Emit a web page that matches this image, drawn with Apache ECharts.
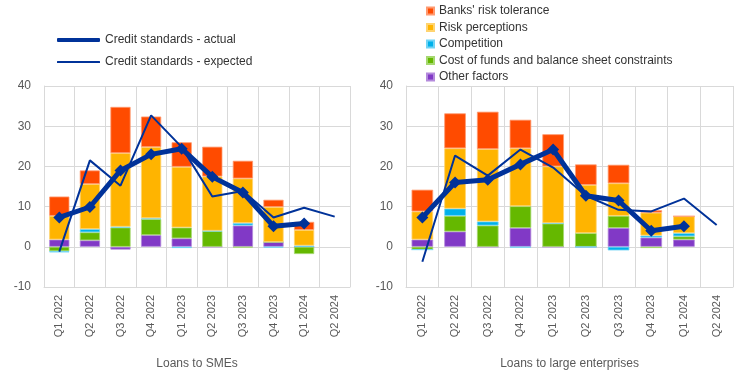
<!DOCTYPE html>
<html><head><meta charset="utf-8">
<script src="https://cdn.jsdelivr.net/npm/echarts@6/dist/echarts.min.js"></script>
<style>html,body{margin:0;padding:0;background:#fff}#c{width:744px;height:381px}</style>
</head><body><div id="c"></div>
<script>
var categories = ['Q1 2022','Q2 2022','Q3 2022','Q4 2022','Q1 2023','Q2 2023','Q3 2023','Q4 2023','Q1 2024','Q2 2024'];
var yTicks = [-10, 0, 10, 20, 30, 40];
var titles = ['Loans to SMEs', 'Loans to large enterprises'];

// Loans to SMEs
var smeOther    = [1.8, 1.6, -0.7, 2.9, 2.1, 0, 5.3, 1.2, 0, null];
var smeCost     = [-1.1, 2.0, 4.8, 4.0, 2.7, 3.9, -0.2, 0, -1.8, null];
var smeComp     = [-0.3, 0.8, 0.2, 0.2, -0.3, 0.1, 0.6, -0.2, 0.3, null];
var smeRiskP    = [5.9, 11.2, 18.3, 17.7, 15.1, 13.5, 11.1, 8.7, 3.9, null];
var smeTol      = [4.8, 3.4, 11.5, 7.6, 6.1, 7.4, 4.4, 1.8, 2.0, null];
var smeActual   = [7.3, 9.9, 19.0, 23.0, 24.4, 17.4, 13.5, 5.1, 5.8, null];
var smeExpected = [-1.2, 21.5, 15.2, 32.7, 24.8, 12.5, 13.9, 7.3, 9.7, 7.5];

// Loans to large enterprises
var lgOther    = [1.8, 3.8, 0, 4.7, 0, 0, 4.7, 2.3, 1.8, null];
var lgCost     = [-0.7, 3.9, 5.3, 5.4, 5.8, 3.4, 3.0, -0.3, 0.8, null];
var lgComp     = [0, 1.8, 1.0, -0.2, 0.1, -0.1, -0.9, 0.5, 0.8, null];
var lgRiskP    = [7.0, 15.0, 18.0, 14.4, 14.1, 12.0, 8.1, 5.7, 4.2, null];
var lgTol      = [5.4, 8.7, 9.3, 7.1, 8.0, 5.1, 4.6, 0.6, 0, null];
var lgActual   = [7.3, 16.0, 16.7, 20.5, 24.2, 12.7, 11.5, 4.0, 5.1, null];
var lgExpected = [-3.7, 22.7, 17.7, 24.2, 19.7, 12.7, 9.2, 8.8, 12.0, 5.4];

var barNames = ["Banks' risk tolerance", 'Risk perceptions', 'Competition', 'Cost of funds and balance sheet constraints', 'Other factors'];
var barColors = {"Banks' risk tolerance":'#FF4B00','Risk perceptions':'#FFB400','Competition':'#00B1EA','Cost of funds and balance sheet constraints':'#65B800','Other factors':'#8139C6'};
var barBorders = {"Banks' risk tolerance":'#FF9A70','Risk perceptions':'#FFD470','Competition':'#70D4F5','Cost of funds and balance sheet constraints':'#A6D870','Other factors':'#B48ADC'};
var lineColor = '#003299';
var FONT = 'Liberation Sans, Arial, sans-serif';
var txt = '#595959';

function bars(idx, stack, d) {
  var order = ['Other factors','Cost of funds and balance sheet constraints','Competition','Risk perceptions',"Banks' risk tolerance"];
  return order.map(function(n, i){
    return {name:n, type:'bar', stack:stack, xAxisIndex:idx, yAxisIndex:idx, data:d[i],
      barWidth:'66%', itemStyle:{color:barColors[n], borderColor:barBorders[n], borderWidth:0.8}};
  });
}
function lines(idx, act, exp) {
  return [
    {name:'Credit standards - expected', type:'line', xAxisIndex:idx, yAxisIndex:idx, data:exp, symbol:'none',
      lineStyle:{color:lineColor, width:2}, itemStyle:{color:lineColor}, z:5},
    {name:'Credit standards - actual', type:'line', xAxisIndex:idx, yAxisIndex:idx, data:act, symbol:'diamond', symbolSize:12,
      lineStyle:{color:lineColor, width:5}, itemStyle:{color:lineColor}, z:6}
  ];
}
function xAx(idx) {
  return {type:'category', gridIndex:idx, data:categories, boundaryGap:true,
    axisLine:{show:true, onZero:false, lineStyle:{color:'#d9d9d9'}}, axisTick:{show:false},
    splitLine:{show:true, lineStyle:{color:'#d9d9d9'}},
    axisLabel:{rotate:90, fontSize:11, color:txt, fontFamily:FONT, margin:8, interval:0},
    name:titles[idx], nameLocation:'middle', nameGap:71, nameTextStyle:{fontSize:12, color:txt, fontFamily:FONT}};
}
function yAx(idx) {
  return {type:'value', gridIndex:idx, min:yTicks[0], max:yTicks[yTicks.length-1], interval:10,
    axisLine:{show:true, lineStyle:{color:'#d9d9d9'}}, axisTick:{show:false},
    splitLine:{show:true, lineStyle:{color:'#d9d9d9'}},
    axisLabel:{fontSize:12, color:txt, fontFamily:FONT, margin:13}};
}

var chart = echarts.init(document.getElementById('c'));
chart.setOption({
  animation:false,
  textStyle:{fontFamily:FONT},
  grid:[{left:44, right:394, top:86, bottom:94}, {left:406, right:11, top:86, bottom:94}],
  legend:[
    {data:[{name:'Credit standards - actual', icon:'roundRect'}], left:52, top:29, itemWidth:43, itemHeight:4, itemGap:4,
      textStyle:{fontSize:12, color:'#333', fontFamily:FONT}},
    {data:[{name:'Credit standards - expected', icon:'roundRect'}], left:52, top:51, itemWidth:43, itemHeight:2, itemGap:4,
      textStyle:{fontSize:12, color:'#333', fontFamily:FONT}},
    {data:barNames, orient:'vertical', left:421, top:-1, icon:'rect', itemWidth:7, itemHeight:7, itemGap:2.5,
      textStyle:{fontSize:12, color:'#333', fontFamily:FONT, lineHeight:14}}
  ],
  xAxis:[xAx(0), xAx(1)],
  yAxis:[yAx(0), yAx(1)],
  series: [].concat(
    bars(0, 'sme', [smeOther, smeCost, smeComp, smeRiskP, smeTol]),
    lines(0, smeActual, smeExpected),
    bars(1, 'lg', [lgOther, lgCost, lgComp, lgRiskP, lgTol]),
    lines(1, lgActual, lgExpected)
  )
});
</script></body></html>
